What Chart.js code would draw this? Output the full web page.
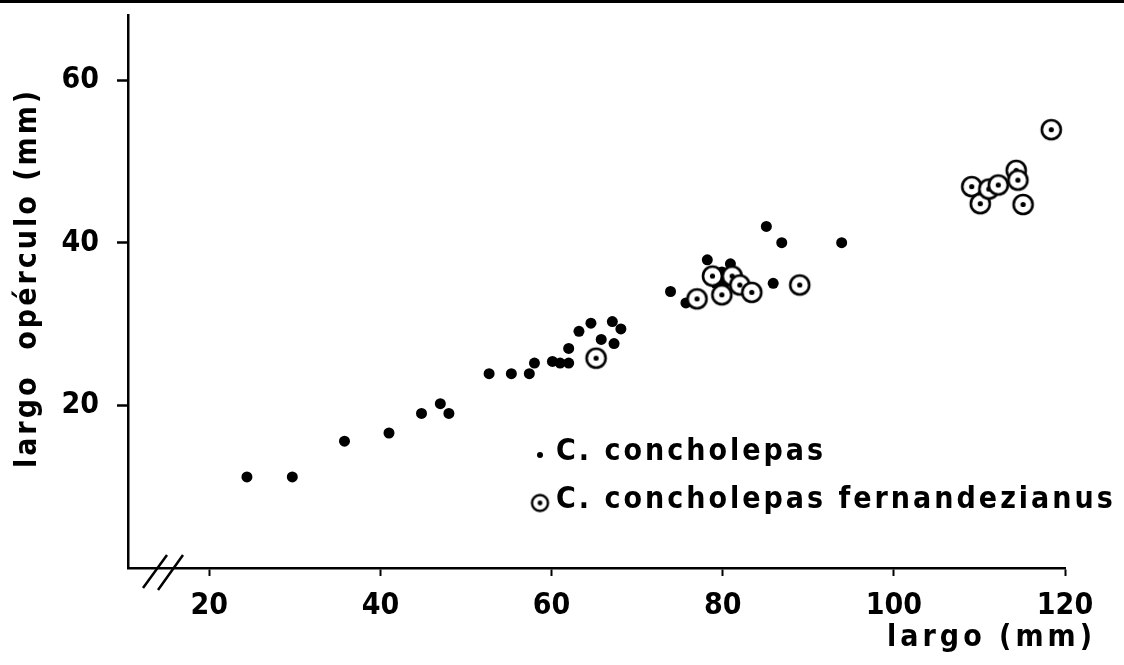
<!DOCTYPE html>
<html>
<head>
<meta charset="utf-8">
<script src="https://cdn.jsdelivr.net/npm/chart.js@4/dist/chart.umd.min.js"></script>
<style>
  html, body { margin: 0; padding: 0; background: #fff; }
  #wrap { width: 1124px; height: 665px; position: relative; }
</style>
</head>
<body>
<div id="wrap"><canvas id="chart" width="1124" height="665"></canvas></div>
<script>
"use strict";

// largo (mm) / largo opérculo (mm)
const concholepasLargo = [24.4, 29.7, 35.8, 41.0, 44.8, 47.0, 48.0, 52.7, 55.3, 57.4, 58.0, 60.1,
    61.0, 62.0, 62.0, 63.2, 64.6, 65.8, 67.1, 67.3, 68.1, 73.9, 75.7, 78.2, 80.9, 79.9, 79.2, 80.2,
    85.9, 85.1, 86.9, 93.9];
const concholepasOperculo = [11.2, 11.2, 15.6, 16.6, 19.0, 20.2, 19.0, 23.9, 23.9, 23.9, 25.2, 25.4,
    25.2, 25.2, 27.0, 29.1, 30.1, 28.1, 30.3, 27.6, 29.4, 34.0, 32.6, 37.9, 37.4, 36.4, 35.0, 35.1,
    35.0, 42.0, 40.0, 40.0];

const fernandezianusLargo = [65.2, 77.0, 78.8, 81.1, 82.0, 79.9, 83.4, 89.0, 109.1, 110.1, 111.1,
    112.2, 114.3, 114.5, 115.1, 118.4];
const fernandezianusOperculo = [25.8, 33.1, 35.9, 35.9, 34.8, 33.6, 33.9, 34.8, 46.9, 44.8, 46.6,
    47.1, 48.9, 47.7, 44.7, 53.9];

const seriesNames = ['C. concholepas', 'C. concholepas fernandezianus'];
const xTicks = [20, 40, 60, 80, 100, 120];
const yTicks = [20, 40, 60];
const xTitle = 'largo (mm)';
const yTitle = 'largo  opérculo (mm)';

const FONT = "'DejaVu Sans Condensed', 'DejaVu Sans', sans-serif";

const toPoints = (xs, ys) => xs.map((x, i) => ({x: x, y: ys[i]}));

/**
 * open circle with a dot in the middle
 */
const makeRing = (r, lw, dot) => {
    const size = Math.ceil((r + lw) * 2 + 2);
    const c = document.createElement('canvas');
    c.width = size;
    c.height = size;
    const g = c.getContext('2d');
    g.beginPath();
    g.arc(size / 2, size / 2, r, 0, Math.PI * 2);
    g.fillStyle = '#fff';
    g.fill();
    g.lineWidth = lw;
    g.strokeStyle = '#000';
    g.stroke();
    g.beginPath();
    g.arc(size / 2, size / 2, dot, 0, Math.PI * 2);
    g.fillStyle = '#000';
    g.fill();
    return c;
};

const ring = makeRing(9.5, 2.6, 2.6);
const smallRing = makeRing(8, 2.4, 2.4);

const decorPlugin = {
    id: 'decor',
    afterDraw: (chart) => {
        const ctx = chart.ctx;
        const area = chart.chartArea;
        ctx.save();

        // scan border at the top
        ctx.fillStyle = '#000';
        ctx.fillRect(0, 0, 1124, 3);

        // axis break
        ctx.strokeStyle = '#000';
        ctx.lineWidth = 2.5;
        ctx.beginPath();
        ctx.moveTo(area.left + 15, area.bottom + 20);
        ctx.lineTo(area.left + 39, area.bottom - 13);
        ctx.moveTo(area.left + 30, area.bottom + 22);
        ctx.lineTo(area.left + 55, area.bottom - 13);
        ctx.stroke();

        ctx.fillStyle = '#000';
        ctx.textBaseline = 'middle';
        ctx.font = 'bold 30px ' + FONT;
        ctx.letterSpacing = '3px';

        // legend
        ctx.beginPath();
        ctx.arc(540, 455, 3, 0, Math.PI * 2);
        ctx.fill();
        ctx.drawImage(smallRing, 540 - smallRing.width / 2, 503 - smallRing.height / 2);
        ctx.textAlign = 'left';
        ctx.fillText(seriesNames[0], 556, 452);
        ctx.fillText(seriesNames[1], 556, 500);

        // x title
        ctx.textAlign = 'right';
        ctx.letterSpacing = '4px';
        ctx.fillText(xTitle, 1096, 638);

        // y title
        ctx.translate(28, 278);
        ctx.rotate(-Math.PI / 2);
        ctx.textAlign = 'center';
        ctx.letterSpacing = '3px';
        ctx.fillText(yTitle, 0, 0);
        ctx.restore();
    }
};

const chart = new Chart(document.getElementById('chart'), {
    type: 'scatter',
    data: {
        datasets: [
            {
                label: seriesNames[0],
                data: toPoints(concholepasLargo, concholepasOperculo),
                pointStyle: 'circle',
                pointRadius: 5.5,
                backgroundColor: '#000',
                borderColor: '#000',
                borderWidth: 0,
                order: 2
            },
            {
                label: seriesNames[1],
                data: toPoints(fernandezianusLargo, fernandezianusOperculo),
                pointStyle: ring,
                pointRadius: 10,
                order: 1
            }
        ]
    },
    options: {
        responsive: false,
        animation: false,
        events: [],
        layout: {
            padding: {left: 0, top: 15, right: 59, bottom: 0}
        },
        plugins: {
            legend: {display: false},
            tooltip: {enabled: false}
        },
        scales: {
            x: {
                type: 'linear',
                min: 10.5,
                max: 120,
                afterBuildTicks: (scale) => {
                    scale.ticks = xTicks.map(v => ({value: v}));
                },
                afterFit: (scale) => {
                    scale.height = 97;
                    scale.paddingLeft = 0;
                    scale.paddingRight = 0;
                },
                border: {display: true, color: '#000', width: 2.5},
                grid: {drawOnChartArea: false, drawTicks: true, tickLength: 8, tickWidth: 2, color: '#000'},
                ticks: {
                    color: '#000',
                    padding: 12,
                    maxRotation: 0,
                    font: {family: FONT, size: 30, weight: 'bold'}
                }
            },
            y: {
                type: 'linear',
                min: 0,
                max: 68,
                afterBuildTicks: (scale) => {
                    scale.ticks = yTicks.map(v => ({value: v}));
                },
                afterFit: (scale) => {
                    scale.width = 128;
                    scale.paddingTop = 0;
                    scale.paddingBottom = 0;
                },
                border: {display: true, color: '#000', width: 2.5},
                grid: {drawOnChartArea: false, drawTicks: true, tickLength: 11, tickWidth: 2.5, color: '#000'},
                ticks: {
                    color: '#000',
                    padding: 18,
                    font: {family: FONT, size: 30, weight: 'bold'}
                }
            }
        }
    },
    plugins: [decorPlugin]
});
</script>
</body>
</html>
